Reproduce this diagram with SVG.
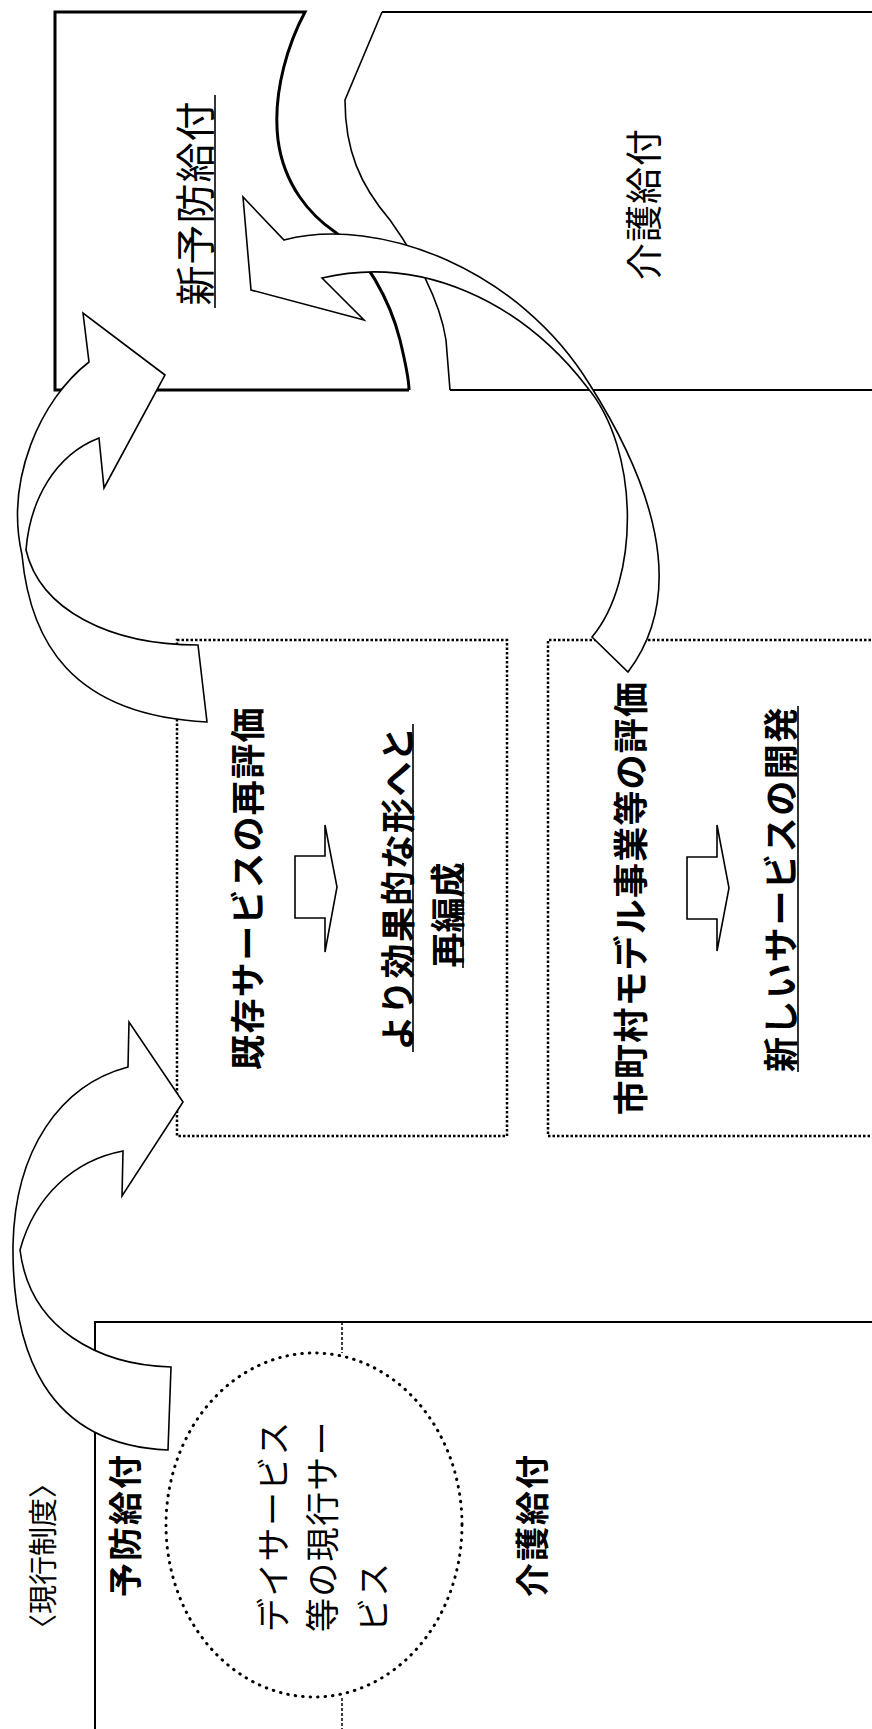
<svg xmlns="http://www.w3.org/2000/svg" width="872" height="1729" viewBox="0 0 872 1729">
  <style>
    .t { font-family: "Noto Sans CJK JP", "Noto Sans", sans-serif; fill: #000; dominant-baseline: central; }
    .b { font-weight: bold; }
    .solid { fill: none; stroke: #000; }
    .dotbox { fill: none; stroke: #000; stroke-width: 2.5; stroke-dasharray: 2.5 2; }
    .arrow { fill: #fff; stroke: #000; stroke-width: 1.6; stroke-linejoin: miter; }
    .ul { stroke: #000; stroke-width: 1.6; }
  </style>
  <rect x="0" y="0" width="872" height="1729" fill="#fff"/>

  <g id="new-prevention-box">
    <path class="solid" stroke-width="3" d="M409,390 L55,390 L55,12 L305,12 C290,40 272,90 278,140 C284,185 310,215 335,232 C365,255 390,300 400,340 C406,365 409,380 409,390"/>
    <text class="t" font-size="40" letter-spacing="1" text-anchor="middle" transform="translate(193,203) rotate(-90)">新予防給付</text>
    <line class="ul" x1="215" y1="95" x2="215" y2="308"/>
  </g>

  <g id="care-box-top">
    <path class="solid" stroke-width="1.6" d="M382,12 L345,100 C345,150 360,185 390,220 C415,255 440,300 446,340 L450,390"/>
    <line class="solid" stroke-width="2.2" x1="382" y1="12" x2="872" y2="12"/>
    <line class="solid" stroke-width="2.2" x1="450" y1="390" x2="872" y2="390"/>
    <text class="t" font-size="37" letter-spacing="1" text-anchor="middle" transform="translate(642,204) rotate(-90)">介護給付</text>
  </g>

  <g id="existing-service-box">
    <rect class="dotbox" x="177" y="640" width="330" height="496"/>
    <text class="t b" font-size="35" letter-spacing="1.4" text-anchor="middle" transform="translate(245,888) rotate(-90)">既存サービスの再評価</text>
    <path class="arrow" stroke-width="2.2" d="M295,856 L325,856 L325,825 L337,887 L325,952 L325,918 L295,918 Z"/>
    <text class="t b" font-size="35" letter-spacing="1.4" text-anchor="middle" transform="translate(395,888) rotate(-90)">より効果的な形へと</text>
    <line class="ul" x1="413" y1="724" x2="413" y2="1052"/>
    <text class="t b" font-size="35" letter-spacing="0" text-anchor="middle" transform="translate(445,915) rotate(-90)">再編成</text>
    <line class="ul" x1="463" y1="863" x2="463" y2="968"/>
  </g>

  <g id="municipal-box">
    <path class="dotbox" d="M880,640 L548,640 L548,1136 L880,1136"/>
    <text class="t b" font-size="35" letter-spacing="1.2" text-anchor="middle" transform="translate(628,898) rotate(-90)">市町村モデル事業等の評価</text>
    <path class="arrow" stroke-width="2.2" d="M687,857 L717,857 L717,825 L729,888 L717,951 L717,919 L687,919 Z"/>
    <text class="t b" font-size="35" letter-spacing="1.6" text-anchor="middle" transform="translate(778,889) rotate(-90)">新しいサービスの開発</text>
    <line class="ul" x1="798" y1="706" x2="798" y2="1072"/>
  </g>

  <g id="current-system">
    <text class="t" font-size="29" text-anchor="middle" transform="translate(41,1556) rotate(-90)">〈現行制度〉</text>
    <path class="solid" stroke-width="2" d="M872,1322 L95,1322 L95,1729"/>
    <line class="solid" stroke-width="1.5" stroke-dasharray="3 2" x1="342" y1="1322" x2="342" y2="1353"/>
    <line class="solid" stroke-width="1.5" stroke-dasharray="3 2" x1="342" y1="1698" x2="342" y2="1729"/>
    <text class="t b" font-size="34" letter-spacing="2" text-anchor="middle" transform="translate(123,1525) rotate(-90)">予防給付</text>
    <text class="t b" font-size="34" letter-spacing="2" text-anchor="middle" transform="translate(530,1525) rotate(-90)">介護給付</text>
  </g>

  <g id="day-service-circle">
    <ellipse cx="314" cy="1525" rx="148" ry="172" fill="none" stroke="#000" stroke-width="3" stroke-linecap="round" stroke-dasharray="0.5 7"/>
    <text class="t" font-size="34" letter-spacing="1.3" text-anchor="start" transform="translate(271,1632) rotate(-90)">デイサービス</text>
    <text class="t" font-size="34" letter-spacing="1.3" text-anchor="start" transform="translate(320,1632) rotate(-90)">等の現行サー</text>
    <text class="t" font-size="34" letter-spacing="1.3" text-anchor="start" transform="translate(371,1632) rotate(-90)">ビス</text>
  </g>

  <g id="connectors">
    <path id="arrow-to-existing" class="arrow" d="M183,1102 L129,1022 L128,1067 C60,1085 15,1150 13,1245 C12,1350 45,1445 168,1450 L171,1367 C100,1365 30,1330 20,1250 C35,1195 75,1160 123,1151 L122,1196 Z"/>
    <path id="arrow-to-new-prevention" class="arrow" d="M165,375 L83,313 L89,362 C40,400 5,480 22,555 C30,640 70,715 207,722 L198,645 C110,645 40,610 26,550 C30,500 55,455 99,438 L104,488 Z"/>
    <path id="arrow-from-municipal" class="arrow" d="M251,290 L243,197 L284,240 C380,215 520,270 590,385 C650,480 690,590 628,672 L592,637 C640,580 640,450 587,387 C520,300 420,255 322,278 L364,320 Z"/>
  </g>
</svg>
